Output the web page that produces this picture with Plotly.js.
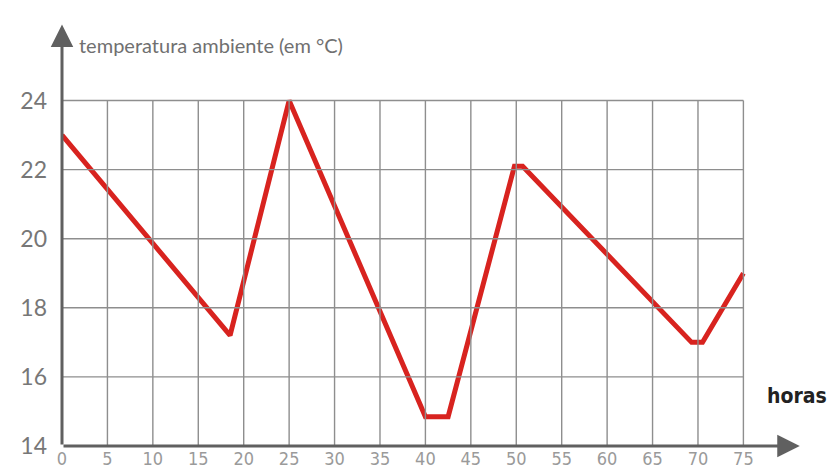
<!DOCTYPE html>
<html>
<head>
<meta charset="utf-8">
<script src="https://cdn.plot.ly/plotly-3.0.1.min.js"></script>
<style>html,body{margin:0;padding:0;background:#fff;}#chart{width:830px;height:471px;}</style>
</head>
<body>
<div id="chart"></div>
<script>
// Data
const hours = [0, 18.5, 25, 40, 42.5, 49.8, 50.7, 69.3, 70.5, 75];
const temps = [23, 17.2, 24, 14.85, 14.85, 22.1, 22.1, 17, 17, 19];
const xTicks = [0, 5, 10, 15, 20, 25, 30, 35, 40, 45, 50, 55, 60, 65, 70, 75];
const yTicks = [14, 16, 18, 20, 22, 24];
const yTitle = "temperatura ambiente (em °C)";
const xTitle = "horas";

const xMax = 75, yMin = 14, yMax = 24;
const gridColor = "#8e8e8e";
const shapes = [];
xTicks.forEach(v => {
  if (v === 0) return;
  shapes.push({type: "line", xref: "x", yref: "y", x0: v, x1: v, y0: yMin, y1: yMax,
    line: {color: gridColor, width: 1.4}});
});
yTicks.forEach(v => {
  if (v === yMin) return;
  shapes.push({type: "line", xref: "x", yref: "y", x0: 0, x1: xMax, y0: v, y1: v,
    line: {color: gridColor, width: 1.4}});
});

const trace = {
  x: hours, y: temps, type: "scatter", mode: "lines",
  line: {color: "#d8231f", width: 5, shape: "linear"},
  hoverinfo: "skip"
};

const condensed = "DejaVu Sans Condensed, Liberation Sans Narrow, sans-serif";

const layout = {
  width: 830, height: 471,
  margin: {l: 62, r: 23, t: 28, b: 25},
  paper_bgcolor: "#fff", plot_bgcolor: "#fff",
  showlegend: false,
  xaxis: {
    range: [0, 82], showgrid: false, zeroline: false, showline: false,
    tickmode: "array", tickvals: xTicks, ticktext: xTicks.map(String),
    ticks: "", ticklen: 0, ticklabelstandoff: 0,
    tickfont: {family: condensed, size: 18, color: "#9a9a9a"}
  },
  yaxis: {
    range: [14, 26.1], showgrid: false, zeroline: false, showline: false,
    tickmode: "array", tickvals: yTicks, ticktext: yTicks.map(String),
    ticks: "", ticklen: 0, ticklabelstandoff: 14,
    tickfont: {family: "Lato, Open Sans, sans-serif", size: 23, color: "#777"}
  },
  shapes: shapes,
  annotations: [
    {x: 0, y: 26.2, ax: 0, ay: 14, xref: "x", yref: "y", axref: "x", ayref: "y",
     text: "", showarrow: true, arrowhead: 2, arrowsize: 1.5, arrowwidth: 3, arrowcolor: "#606060"},
    {x: 81.2, y: 14, ax: 0, ay: 14, xref: "x", yref: "y", axref: "x", ayref: "y",
     text: "", showarrow: true, arrowhead: 2, arrowsize: 1.5, arrowwidth: 3, arrowcolor: "#606060"},
    {x: 1.6, y: 25.6, xref: "x", yref: "y", xanchor: "left", yanchor: "middle",
     text: yTitle, showarrow: false,
     font: {family: "Lato, Open Sans, sans-serif", size: 20, color: "#707070"}},
    {x: 1.03, y: 15.45, xref: "paper", yref: "y", xanchor: "right", yanchor: "middle",
     text: "<b>" + xTitle + "</b>", showarrow: false,
     font: {family: condensed, size: 21, color: "#222"}}
  ]
};

Plotly.newPlot("chart", [trace], layout, {displayModeBar: false, staticPlot: true});
</script>
</body>
</html>
